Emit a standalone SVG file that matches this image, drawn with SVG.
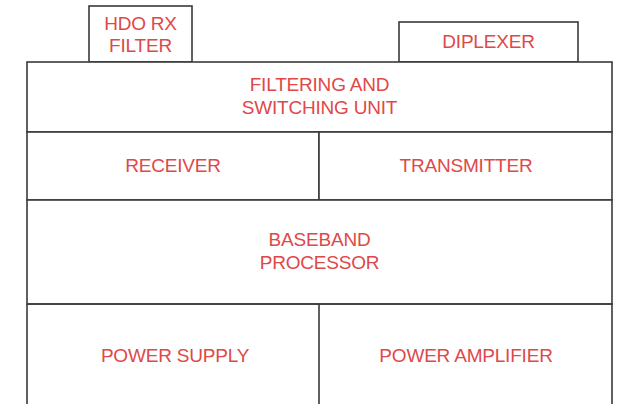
<svg xmlns="http://www.w3.org/2000/svg" width="618" height="404" viewBox="0 0 618 404">
<style>
.box{fill:#fff;stroke:#3a3a3a;stroke-width:1.6}
.ln{stroke:#3a3a3a;stroke-width:1.6;fill:none}
text{font-family:"Liberation Sans",Arial,sans-serif;font-size:19px;fill:#e04848;text-anchor:middle;letter-spacing:-0.2px}
</style>
<rect width="618" height="404" fill="#fff"/>
<g id="hdo-rx-filter">
<rect class="box" x="89" y="6" width="103" height="56"/>
<text x="140.5" y="29.5">HDO RX</text>
<text x="140.5" y="52">FILTER</text>
</g>
<g id="diplexer">
<rect class="box" x="399" y="22" width="179" height="40"/>
<text x="488.5" y="48">DIPLEXER</text>
</g>
<g id="filtering-switching-unit">
<rect class="box" x="27" y="62" width="585" height="70"/>
<text x="319.5" y="91">FILTERING AND</text>
<text x="319.5" y="113.5">SWITCHING UNIT</text>
</g>
<g id="receiver">
<rect class="box" x="27" y="132" width="292" height="68"/>
<text x="173" y="171.5">RECEIVER</text>
</g>
<g id="transmitter">
<rect class="box" x="319" y="132" width="293" height="68"/>
<text x="466" y="171.5">TRANSMITTER</text>
</g>
<g id="baseband-processor">
<rect class="box" x="27" y="200" width="585" height="104"/>
<text x="319.5" y="246">BASEBAND</text>
<text x="319.5" y="268.5">PROCESSOR</text>
</g>
<g id="power-supply">
<path class="ln" d="M27 304 V406 M27 304 H319"/>
<text x="175" y="361.5">POWER SUPPLY</text>
</g>
<g id="power-amplifier">
<path class="ln" d="M319 304 V406 M319 304 H612 V406"/>
<text x="466" y="361.5">POWER AMPLIFIER</text>
</g>
<g id="connectors"></g>
</svg>
